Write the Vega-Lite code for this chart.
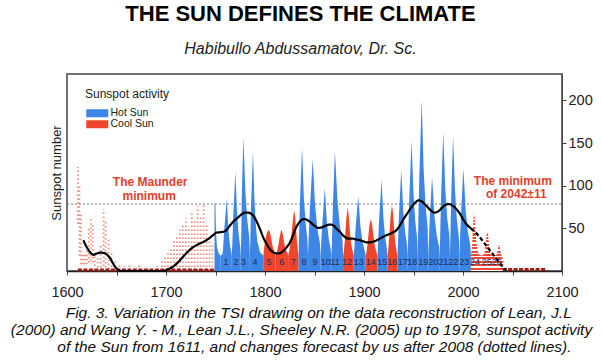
{
  "$schema": "https://vega.github.io/schema/vega-lite/v6.json",
  "width": 495,
  "height": 197,
  "autosize": {"type": "none"},
  "padding": {"left": 67, "top": 74, "right": 40, "bottom": 89},
  "background": "white",
  "title": {
    "text": "THE SUN DEFINES THE CLIMATE",
    "subtitle": "Habibullo Abdussamatov, Dr. Sc.",
    "anchor": "middle",
    "frame": "group",
    "dx": -14,
    "offset": 16,
    "font": "Liberation Sans",
    "fontSize": 22,
    "fontWeight": "bold",
    "color": "#000000",
    "subtitleFont": "Liberation Sans",
    "subtitleFontSize": 16,
    "subtitleFontStyle": "italic",
    "subtitleColor": "#222222",
    "subtitlePadding": 15
  },
  "config": {"view": {"stroke": "#444444", "strokeWidth": 1.5}, "font": "Liberation Sans"},
  "resolve": {"axis": {"y": "independent"}},
  "datasets": {
    "cyc": [
      {"year": 1749.0, "v": 80, "c": 0, "k": "Hot Sun"},
      {"year": 1749.9, "v": 78, "c": 0, "k": "Hot Sun"},
      {"year": 1750.5, "v": 45, "c": 0, "k": "Hot Sun"},
      {"year": 1751.5, "v": 28, "c": 0, "k": "Hot Sun"},
      {"year": 1753.0, "v": 21, "c": 0, "k": "Hot Sun"},
      {"year": 1755.2, "v": 18, "c": 0, "k": "Hot Sun"},
      {"year": 1755.2, "v": 18, "c": 1, "k": "Hot Sun"},
      {"year": 1757.0, "v": 20, "c": 1, "k": "Hot Sun"},
      {"year": 1757.6, "v": 25, "c": 1, "k": "Hot Sun"},
      {"year": 1758.7, "v": 47, "c": 1, "k": "Hot Sun"},
      {"year": 1760.7, "v": 75, "c": 1, "k": "Hot Sun"},
      {"year": 1761.3, "v": 85, "c": 1, "k": "Hot Sun"},
      {"year": 1761.8, "v": 75, "c": 1, "k": "Hot Sun"},
      {"year": 1762.9, "v": 51, "c": 1, "k": "Hot Sun"},
      {"year": 1764.4, "v": 32, "c": 1, "k": "Hot Sun"},
      {"year": 1765.9, "v": 22, "c": 1, "k": "Hot Sun"},
      {"year": 1766.5, "v": 18, "c": 1, "k": "Hot Sun"},
      {"year": 1766.5, "v": 18, "c": 2, "k": "Hot Sun"},
      {"year": 1767.1, "v": 35, "c": 2, "k": "Hot Sun"},
      {"year": 1767.9, "v": 64, "c": 2, "k": "Hot Sun"},
      {"year": 1769.5, "v": 102, "c": 2, "k": "Hot Sun"},
      {"year": 1770.0, "v": 116, "c": 2, "k": "Hot Sun"},
      {"year": 1770.6, "v": 102, "c": 2, "k": "Hot Sun"},
      {"year": 1771.7, "v": 70, "c": 2, "k": "Hot Sun"},
      {"year": 1773.3, "v": 44, "c": 2, "k": "Hot Sun"},
      {"year": 1774.9, "v": 29, "c": 2, "k": "Hot Sun"},
      {"year": 1775.5, "v": 18, "c": 2, "k": "Hot Sun"},
      {"year": 1775.5, "v": 18, "c": 3, "k": "Hot Sun"},
      {"year": 1776.1, "v": 47, "c": 3, "k": "Hot Sun"},
      {"year": 1776.5, "v": 86, "c": 3, "k": "Hot Sun"},
      {"year": 1777.7, "v": 138, "c": 3, "k": "Hot Sun"},
      {"year": 1778.1, "v": 157, "c": 3, "k": "Hot Sun"},
      {"year": 1778.8, "v": 138, "c": 3, "k": "Hot Sun"},
      {"year": 1780.1, "v": 94, "c": 3, "k": "Hot Sun"},
      {"year": 1782.1, "v": 60, "c": 3, "k": "Hot Sun"},
      {"year": 1784.1, "v": 39, "c": 3, "k": "Hot Sun"},
      {"year": 1784.7, "v": 18, "c": 3, "k": "Hot Sun"},
      {"year": 1784.7, "v": 18, "c": 4, "k": "Hot Sun"},
      {"year": 1785.3, "v": 42, "c": 4, "k": "Hot Sun"},
      {"year": 1785.9, "v": 77, "c": 4, "k": "Hot Sun"},
      {"year": 1787.3, "v": 123, "c": 4, "k": "Hot Sun"},
      {"year": 1787.8, "v": 140, "c": 4, "k": "Hot Sun"},
      {"year": 1788.3, "v": 123, "c": 4, "k": "Hot Sun"},
      {"year": 1789.3, "v": 84, "c": 4, "k": "Hot Sun"},
      {"year": 1790.8, "v": 53, "c": 4, "k": "Hot Sun"},
      {"year": 1792.2, "v": 35, "c": 4, "k": "Hot Sun"},
      {"year": 1795.0, "v": 22, "c": 4, "k": "Hot Sun"},
      {"year": 1798.3, "v": 18, "c": 4, "k": "Hot Sun"},
      {"year": 1798.3, "v": 18, "c": 5, "k": "Cool Sun"},
      {"year": 1799.0, "v": 26, "c": 5, "k": "Cool Sun"},
      {"year": 1800.2, "v": 36, "c": 5, "k": "Cool Sun"},
      {"year": 1802.0, "v": 45, "c": 5, "k": "Cool Sun"},
      {"year": 1803.5, "v": 48, "c": 5, "k": "Cool Sun"},
      {"year": 1804.8, "v": 46, "c": 5, "k": "Cool Sun"},
      {"year": 1806.3, "v": 38, "c": 5, "k": "Cool Sun"},
      {"year": 1807.8, "v": 28, "c": 5, "k": "Cool Sun"},
      {"year": 1809.8, "v": 22, "c": 5, "k": "Cool Sun"},
      {"year": 1810.6, "v": 18, "c": 5, "k": "Cool Sun"},
      {"year": 1810.6, "v": 18, "c": 6, "k": "Cool Sun"},
      {"year": 1811.5, "v": 20, "c": 6, "k": "Cool Sun"},
      {"year": 1813.2, "v": 28, "c": 6, "k": "Cool Sun"},
      {"year": 1814.8, "v": 40, "c": 6, "k": "Cool Sun"},
      {"year": 1816.2, "v": 47, "c": 6, "k": "Cool Sun"},
      {"year": 1816.9, "v": 48, "c": 6, "k": "Cool Sun"},
      {"year": 1817.8, "v": 44, "c": 6, "k": "Cool Sun"},
      {"year": 1819.2, "v": 34, "c": 6, "k": "Cool Sun"},
      {"year": 1820.8, "v": 25, "c": 6, "k": "Cool Sun"},
      {"year": 1822.6, "v": 21, "c": 6, "k": "Cool Sun"},
      {"year": 1823.3, "v": 18, "c": 6, "k": "Cool Sun"},
      {"year": 1823.3, "v": 18, "c": 7, "k": "Cool Sun"},
      {"year": 1824.2, "v": 22, "c": 7, "k": "Cool Sun"},
      {"year": 1825.6, "v": 32, "c": 7, "k": "Cool Sun"},
      {"year": 1827.2, "v": 48, "c": 7, "k": "Cool Sun"},
      {"year": 1828.6, "v": 64, "c": 7, "k": "Cool Sun"},
      {"year": 1829.4, "v": 71, "c": 7, "k": "Cool Sun"},
      {"year": 1830.3, "v": 66, "c": 7, "k": "Cool Sun"},
      {"year": 1831.4, "v": 48, "c": 7, "k": "Cool Sun"},
      {"year": 1832.6, "v": 30, "c": 7, "k": "Cool Sun"},
      {"year": 1833.4, "v": 22, "c": 7, "k": "Cool Sun"},
      {"year": 1833.9, "v": 18, "c": 7, "k": "Cool Sun"},
      {"year": 1833.9, "v": 18, "c": 8, "k": "Hot Sun"},
      {"year": 1834.5, "v": 44, "c": 8, "k": "Hot Sun"},
      {"year": 1835.3, "v": 80, "c": 8, "k": "Hot Sun"},
      {"year": 1836.9, "v": 128, "c": 8, "k": "Hot Sun"},
      {"year": 1837.4, "v": 145, "c": 8, "k": "Hot Sun"},
      {"year": 1838.0, "v": 128, "c": 8, "k": "Hot Sun"},
      {"year": 1839.2, "v": 87, "c": 8, "k": "Hot Sun"},
      {"year": 1841.1, "v": 55, "c": 8, "k": "Hot Sun"},
      {"year": 1842.9, "v": 36, "c": 8, "k": "Hot Sun"},
      {"year": 1843.5, "v": 18, "c": 8, "k": "Hot Sun"},
      {"year": 1843.5, "v": 18, "c": 9, "k": "Hot Sun"},
      {"year": 1844.1, "v": 39, "c": 9, "k": "Hot Sun"},
      {"year": 1845.3, "v": 72, "c": 9, "k": "Hot Sun"},
      {"year": 1847.4, "v": 115, "c": 9, "k": "Hot Sun"},
      {"year": 1848.1, "v": 131, "c": 9, "k": "Hot Sun"},
      {"year": 1848.9, "v": 115, "c": 9, "k": "Hot Sun"},
      {"year": 1850.5, "v": 79, "c": 9, "k": "Hot Sun"},
      {"year": 1852.8, "v": 50, "c": 9, "k": "Hot Sun"},
      {"year": 1855.4, "v": 33, "c": 9, "k": "Hot Sun"},
      {"year": 1856.0, "v": 18, "c": 9, "k": "Hot Sun"},
      {"year": 1856.0, "v": 18, "c": 10, "k": "Hot Sun"},
      {"year": 1856.6, "v": 29, "c": 10, "k": "Hot Sun"},
      {"year": 1857.8, "v": 53, "c": 10, "k": "Hot Sun"},
      {"year": 1859.7, "v": 85, "c": 10, "k": "Hot Sun"},
      {"year": 1860.4, "v": 97, "c": 10, "k": "Hot Sun"},
      {"year": 1861.1, "v": 85, "c": 10, "k": "Hot Sun"},
      {"year": 1862.4, "v": 58, "c": 10, "k": "Hot Sun"},
      {"year": 1864.5, "v": 37, "c": 10, "k": "Hot Sun"},
      {"year": 1866.6, "v": 24, "c": 10, "k": "Hot Sun"},
      {"year": 1867.2, "v": 18, "c": 10, "k": "Hot Sun"},
      {"year": 1867.2, "v": 18, "c": 11, "k": "Hot Sun"},
      {"year": 1867.8, "v": 42, "c": 11, "k": "Hot Sun"},
      {"year": 1868.6, "v": 77, "c": 11, "k": "Hot Sun"},
      {"year": 1870.1, "v": 123, "c": 11, "k": "Hot Sun"},
      {"year": 1870.6, "v": 140, "c": 11, "k": "Hot Sun"},
      {"year": 1871.4, "v": 123, "c": 11, "k": "Hot Sun"},
      {"year": 1873.1, "v": 84, "c": 11, "k": "Hot Sun"},
      {"year": 1875.6, "v": 53, "c": 11, "k": "Hot Sun"},
      {"year": 1878.3, "v": 35, "c": 11, "k": "Hot Sun"},
      {"year": 1878.9, "v": 18, "c": 11, "k": "Hot Sun"},
      {"year": 1878.9, "v": 18, "c": 12, "k": "Cool Sun"},
      {"year": 1879.6, "v": 22, "c": 12, "k": "Cool Sun"},
      {"year": 1880.8, "v": 38, "c": 12, "k": "Cool Sun"},
      {"year": 1882.2, "v": 62, "c": 12, "k": "Cool Sun"},
      {"year": 1883.6, "v": 75, "c": 12, "k": "Cool Sun"},
      {"year": 1884.5, "v": 66, "c": 12, "k": "Cool Sun"},
      {"year": 1885.6, "v": 48, "c": 12, "k": "Cool Sun"},
      {"year": 1887.0, "v": 32, "c": 12, "k": "Cool Sun"},
      {"year": 1888.8, "v": 22, "c": 12, "k": "Cool Sun"},
      {"year": 1889.6, "v": 18, "c": 12, "k": "Cool Sun"},
      {"year": 1889.6, "v": 18, "c": 13, "k": "Hot Sun"},
      {"year": 1890.2, "v": 26, "c": 13, "k": "Hot Sun"},
      {"year": 1891.4, "v": 48, "c": 13, "k": "Hot Sun"},
      {"year": 1893.4, "v": 77, "c": 13, "k": "Hot Sun"},
      {"year": 1894.1, "v": 87, "c": 13, "k": "Hot Sun"},
      {"year": 1894.9, "v": 77, "c": 13, "k": "Hot Sun"},
      {"year": 1896.4, "v": 52, "c": 13, "k": "Hot Sun"},
      {"year": 1898.7, "v": 33, "c": 13, "k": "Hot Sun"},
      {"year": 1901.1, "v": 22, "c": 13, "k": "Hot Sun"},
      {"year": 1901.7, "v": 18, "c": 13, "k": "Hot Sun"},
      {"year": 1901.7, "v": 18, "c": 14, "k": "Cool Sun"},
      {"year": 1902.5, "v": 22, "c": 14, "k": "Cool Sun"},
      {"year": 1903.8, "v": 34, "c": 14, "k": "Cool Sun"},
      {"year": 1905.3, "v": 52, "c": 14, "k": "Cool Sun"},
      {"year": 1906.9, "v": 61, "c": 14, "k": "Cool Sun"},
      {"year": 1908.0, "v": 56, "c": 14, "k": "Cool Sun"},
      {"year": 1909.3, "v": 44, "c": 14, "k": "Cool Sun"},
      {"year": 1910.8, "v": 30, "c": 14, "k": "Cool Sun"},
      {"year": 1912.6, "v": 22, "c": 14, "k": "Cool Sun"},
      {"year": 1913.6, "v": 18, "c": 14, "k": "Cool Sun"},
      {"year": 1913.6, "v": 18, "c": 15, "k": "Hot Sun"},
      {"year": 1914.2, "v": 32, "c": 15, "k": "Hot Sun"},
      {"year": 1915.2, "v": 59, "c": 15, "k": "Hot Sun"},
      {"year": 1917.1, "v": 94, "c": 15, "k": "Hot Sun"},
      {"year": 1917.7, "v": 107, "c": 15, "k": "Hot Sun"},
      {"year": 1918.3, "v": 94, "c": 15, "k": "Hot Sun"},
      {"year": 1919.5, "v": 64, "c": 15, "k": "Hot Sun"},
      {"year": 1921.2, "v": 41, "c": 15, "k": "Hot Sun"},
      {"year": 1923.0, "v": 27, "c": 15, "k": "Hot Sun"},
      {"year": 1923.6, "v": 18, "c": 15, "k": "Hot Sun"},
      {"year": 1923.6, "v": 18, "c": 16, "k": "Cool Sun"},
      {"year": 1924.3, "v": 22, "c": 16, "k": "Cool Sun"},
      {"year": 1925.5, "v": 40, "c": 16, "k": "Cool Sun"},
      {"year": 1927.0, "v": 66, "c": 16, "k": "Cool Sun"},
      {"year": 1928.2, "v": 77, "c": 16, "k": "Cool Sun"},
      {"year": 1929.1, "v": 70, "c": 16, "k": "Cool Sun"},
      {"year": 1930.3, "v": 50, "c": 16, "k": "Cool Sun"},
      {"year": 1931.7, "v": 32, "c": 16, "k": "Cool Sun"},
      {"year": 1933.1, "v": 22, "c": 16, "k": "Cool Sun"},
      {"year": 1933.8, "v": 18, "c": 16, "k": "Cool Sun"},
      {"year": 1933.8, "v": 18, "c": 17, "k": "Hot Sun"},
      {"year": 1934.4, "v": 35, "c": 17, "k": "Hot Sun"},
      {"year": 1935.3, "v": 65, "c": 17, "k": "Hot Sun"},
      {"year": 1937.0, "v": 104, "c": 17, "k": "Hot Sun"},
      {"year": 1937.6, "v": 118, "c": 17, "k": "Hot Sun"},
      {"year": 1938.3, "v": 104, "c": 17, "k": "Hot Sun"},
      {"year": 1939.6, "v": 71, "c": 17, "k": "Hot Sun"},
      {"year": 1941.6, "v": 45, "c": 17, "k": "Hot Sun"},
      {"year": 1943.6, "v": 30, "c": 17, "k": "Hot Sun"},
      {"year": 1944.2, "v": 18, "c": 17, "k": "Hot Sun"},
      {"year": 1944.2, "v": 18, "c": 18, "k": "Hot Sun"},
      {"year": 1944.8, "v": 46, "c": 18, "k": "Hot Sun"},
      {"year": 1945.7, "v": 84, "c": 18, "k": "Hot Sun"},
      {"year": 1947.4, "v": 135, "c": 18, "k": "Hot Sun"},
      {"year": 1948.0, "v": 153, "c": 18, "k": "Hot Sun"},
      {"year": 1948.6, "v": 135, "c": 18, "k": "Hot Sun"},
      {"year": 1949.9, "v": 92, "c": 18, "k": "Hot Sun"},
      {"year": 1951.8, "v": 58, "c": 18, "k": "Hot Sun"},
      {"year": 1953.7, "v": 38, "c": 18, "k": "Hot Sun"},
      {"year": 1954.3, "v": 18, "c": 18, "k": "Hot Sun"},
      {"year": 1954.3, "v": 18, "c": 19, "k": "Hot Sun"},
      {"year": 1954.9, "v": 60, "c": 19, "k": "Hot Sun"},
      {"year": 1955.9, "v": 110, "c": 19, "k": "Hot Sun"},
      {"year": 1957.6, "v": 176, "c": 19, "k": "Hot Sun"},
      {"year": 1958.2, "v": 200, "c": 19, "k": "Hot Sun"},
      {"year": 1958.9, "v": 176, "c": 19, "k": "Hot Sun"},
      {"year": 1960.2, "v": 120, "c": 19, "k": "Hot Sun"},
      {"year": 1962.2, "v": 76, "c": 19, "k": "Hot Sun"},
      {"year": 1964.3, "v": 50, "c": 19, "k": "Hot Sun"},
      {"year": 1964.9, "v": 18, "c": 19, "k": "Hot Sun"},
      {"year": 1964.9, "v": 18, "c": 20, "k": "Hot Sun"},
      {"year": 1965.5, "v": 33, "c": 20, "k": "Hot Sun"},
      {"year": 1966.4, "v": 61, "c": 20, "k": "Hot Sun"},
      {"year": 1968.1, "v": 97, "c": 20, "k": "Hot Sun"},
      {"year": 1968.7, "v": 110, "c": 20, "k": "Hot Sun"},
      {"year": 1969.5, "v": 97, "c": 20, "k": "Hot Sun"},
      {"year": 1971.0, "v": 66, "c": 20, "k": "Hot Sun"},
      {"year": 1973.4, "v": 42, "c": 20, "k": "Hot Sun"},
      {"year": 1975.9, "v": 28, "c": 20, "k": "Hot Sun"},
      {"year": 1976.5, "v": 18, "c": 20, "k": "Hot Sun"},
      {"year": 1976.5, "v": 18, "c": 21, "k": "Hot Sun"},
      {"year": 1977.1, "v": 49, "c": 21, "k": "Hot Sun"},
      {"year": 1977.9, "v": 90, "c": 21, "k": "Hot Sun"},
      {"year": 1979.5, "v": 143, "c": 21, "k": "Hot Sun"},
      {"year": 1980.0, "v": 163, "c": 21, "k": "Hot Sun"},
      {"year": 1980.7, "v": 143, "c": 21, "k": "Hot Sun"},
      {"year": 1982.0, "v": 98, "c": 21, "k": "Hot Sun"},
      {"year": 1984.1, "v": 62, "c": 21, "k": "Hot Sun"},
      {"year": 1986.2, "v": 41, "c": 21, "k": "Hot Sun"},
      {"year": 1986.8, "v": 18, "c": 21, "k": "Hot Sun"},
      {"year": 1986.8, "v": 18, "c": 22, "k": "Hot Sun"},
      {"year": 1987.4, "v": 47, "c": 22, "k": "Hot Sun"},
      {"year": 1988.1, "v": 87, "c": 22, "k": "Hot Sun"},
      {"year": 1989.5, "v": 139, "c": 22, "k": "Hot Sun"},
      {"year": 1990.0, "v": 158, "c": 22, "k": "Hot Sun"},
      {"year": 1990.6, "v": 139, "c": 22, "k": "Hot Sun"},
      {"year": 1991.9, "v": 95, "c": 22, "k": "Hot Sun"},
      {"year": 1993.8, "v": 60, "c": 22, "k": "Hot Sun"},
      {"year": 1995.8, "v": 40, "c": 22, "k": "Hot Sun"},
      {"year": 1996.4, "v": 18, "c": 22, "k": "Hot Sun"},
      {"year": 1996.4, "v": 18, "c": 23, "k": "Hot Sun"},
      {"year": 1997.0, "v": 36, "c": 23, "k": "Hot Sun"},
      {"year": 1998.0, "v": 66, "c": 23, "k": "Hot Sun"},
      {"year": 1999.7, "v": 106, "c": 23, "k": "Hot Sun"},
      {"year": 2000.3, "v": 120, "c": 23, "k": "Hot Sun"},
      {"year": 2001.1, "v": 106, "c": 23, "k": "Hot Sun"},
      {"year": 2002.6, "v": 72, "c": 23, "k": "Hot Sun"},
      {"year": 2004.9, "v": 46, "c": 23, "k": "Hot Sun"},
      {"year": 2007.4, "v": 30, "c": 23, "k": "Hot Sun"},
      {"year": 2008.0, "v": 18, "c": 23, "k": "Hot Sun"}
    ],
    "fc": [
      {"year": 2008.0, "v": 18},
      {"year": 2009.2, "v": 30},
      {"year": 2010.2, "v": 55},
      {"year": 2011.1, "v": 68},
      {"year": 2012.1, "v": 58},
      {"year": 2013.4, "v": 35},
      {"year": 2015.5, "v": 20},
      {"year": 2018.7, "v": 18},
      {"year": 2021.5, "v": 20},
      {"year": 2022.8, "v": 32},
      {"year": 2023.8, "v": 42},
      {"year": 2024.6, "v": 46},
      {"year": 2025.4, "v": 42},
      {"year": 2026.4, "v": 30},
      {"year": 2027.5, "v": 20},
      {"year": 2030.5, "v": 18},
      {"year": 2033.8, "v": 19},
      {"year": 2034.9, "v": 24},
      {"year": 2035.7, "v": 29},
      {"year": 2036.4, "v": 31},
      {"year": 2037.1, "v": 29},
      {"year": 2038.0, "v": 22},
      {"year": 2039.2, "v": 17},
      {"year": 2040.5, "v": 14},
      {"year": 2041.0, "v": 0}
    ],
    "mspk": [
      {"year": 1611, "lo": 55, "hi": 122},
      {"year": 1612.5, "lo": 18, "hi": 100},
      {"year": 1614, "lo": 8, "hi": 68},
      {"year": 1616, "lo": 8, "hi": 20},
      {"year": 1618, "lo": 8, "hi": 22},
      {"year": 1620, "lo": 8, "hi": 30},
      {"year": 1622, "lo": 10, "hi": 50},
      {"year": 1624, "lo": 12, "hi": 62},
      {"year": 1626, "lo": 10, "hi": 55},
      {"year": 1628, "lo": 6, "hi": 25},
      {"year": 1631, "lo": 4, "hi": 18},
      {"year": 1634, "lo": 4, "hi": 30},
      {"year": 1637, "lo": 6, "hi": 72},
      {"year": 1639, "lo": 4, "hi": 58},
      {"year": 1642, "lo": 2, "hi": 38},
      {"year": 1645, "lo": 0, "hi": 22},
      {"year": 1649, "lo": 0, "hi": 12},
      {"year": 1653, "lo": 0, "hi": 8},
      {"year": 1658, "lo": 0, "hi": 6},
      {"year": 1663, "lo": 0, "hi": 8},
      {"year": 1668, "lo": 0, "hi": 5},
      {"year": 1673, "lo": 0, "hi": 7},
      {"year": 1679, "lo": 0, "hi": 5},
      {"year": 1685, "lo": 0, "hi": 4},
      {"year": 1691, "lo": 0, "hi": 6},
      {"year": 1696, "lo": 0, "hi": 12},
      {"year": 1699, "lo": 0, "hi": 18},
      {"year": 1702, "lo": 0, "hi": 22},
      {"year": 1705, "lo": 0, "hi": 28},
      {"year": 1708, "lo": 0, "hi": 35},
      {"year": 1711, "lo": 0, "hi": 40},
      {"year": 1714, "lo": 0, "hi": 48},
      {"year": 1717, "lo": 0, "hi": 55},
      {"year": 1720, "lo": 0, "hi": 62},
      {"year": 1723, "lo": 0, "hi": 52},
      {"year": 1726, "lo": 0, "hi": 70},
      {"year": 1729, "lo": 0, "hi": 60},
      {"year": 1732, "lo": 0, "hi": 76},
      {"year": 1735, "lo": 0, "hi": 64},
      {"year": 1738, "lo": 0, "hi": 80},
      {"year": 1741, "lo": 0, "hi": 55},
      {"year": 1744, "lo": 0, "hi": 42},
      {"year": 1747, "lo": 0, "hi": 30}
    ],
    "tails": [
      {"year": 1611, "v": 1.2, "s": "a"},
      {"year": 1750, "v": 1.2, "s": "a"},
      {"year": 2040, "v": 1.8, "s": "b"},
      {"year": 2083, "v": 1.8, "s": "b"}
    ],
    "tsi": [
      {"year": 1616.5, "v": 36, "s": "o"},
      {"year": 1619, "v": 30, "s": "o"},
      {"year": 1621.5, "v": 25, "s": "o"},
      {"year": 1624, "v": 21, "s": "o"},
      {"year": 1627, "v": 19, "s": "o"},
      {"year": 1630, "v": 20.5, "s": "o"},
      {"year": 1634, "v": 21.5, "s": "o"},
      {"year": 1638, "v": 21, "s": "o"},
      {"year": 1641, "v": 18.5, "s": "o"},
      {"year": 1643.5, "v": 15, "s": "o"},
      {"year": 1646, "v": 10, "s": "o"},
      {"year": 1648.5, "v": 5, "s": "o"},
      {"year": 1651, "v": 2, "s": "o"},
      {"year": 1654, "v": 0, "s": "o"},
      {"year": 1697, "v": 0, "s": "o"},
      {"year": 1702, "v": 2, "s": "o"},
      {"year": 1707, "v": 5, "s": "o"},
      {"year": 1712, "v": 10, "s": "o"},
      {"year": 1717.5, "v": 17, "s": "o"},
      {"year": 1722, "v": 22.5, "s": "o"},
      {"year": 1727.5, "v": 28, "s": "o"},
      {"year": 1732, "v": 31, "s": "o"},
      {"year": 1737.5, "v": 34, "s": "o"},
      {"year": 1742, "v": 37, "s": "o"},
      {"year": 1747.5, "v": 42, "s": "o"},
      {"year": 1751, "v": 45, "s": "o"},
      {"year": 1755, "v": 45.5, "s": "o"},
      {"year": 1758, "v": 46, "s": "o"},
      {"year": 1761, "v": 48, "s": "o"},
      {"year": 1765, "v": 54, "s": "o"},
      {"year": 1769, "v": 59, "s": "o"},
      {"year": 1773, "v": 63, "s": "o"},
      {"year": 1777, "v": 67, "s": "o"},
      {"year": 1780, "v": 68.5, "s": "o"},
      {"year": 1783, "v": 68.5, "s": "o"},
      {"year": 1786, "v": 67, "s": "o"},
      {"year": 1789, "v": 63.5, "s": "o"},
      {"year": 1792, "v": 57, "s": "o"},
      {"year": 1795, "v": 49, "s": "o"},
      {"year": 1798, "v": 40, "s": "o"},
      {"year": 1801, "v": 33, "s": "o"},
      {"year": 1804, "v": 27, "s": "o"},
      {"year": 1807, "v": 23, "s": "o"},
      {"year": 1810, "v": 21, "s": "o"},
      {"year": 1813, "v": 20.5, "s": "o"},
      {"year": 1816, "v": 21.5, "s": "o"},
      {"year": 1819, "v": 24, "s": "o"},
      {"year": 1822, "v": 28, "s": "o"},
      {"year": 1825, "v": 33, "s": "o"},
      {"year": 1828, "v": 41, "s": "o"},
      {"year": 1831, "v": 50, "s": "o"},
      {"year": 1834, "v": 56, "s": "o"},
      {"year": 1837, "v": 60, "s": "o"},
      {"year": 1840, "v": 61, "s": "o"},
      {"year": 1845, "v": 58, "s": "o"},
      {"year": 1850, "v": 53, "s": "o"},
      {"year": 1854, "v": 50.5, "s": "o"},
      {"year": 1858, "v": 51.5, "s": "o"},
      {"year": 1862, "v": 53.5, "s": "o"},
      {"year": 1866, "v": 54.5, "s": "o"},
      {"year": 1869, "v": 53.5, "s": "o"},
      {"year": 1872, "v": 50, "s": "o"},
      {"year": 1876, "v": 45.5, "s": "o"},
      {"year": 1880, "v": 40.5, "s": "o"},
      {"year": 1884, "v": 38, "s": "o"},
      {"year": 1888, "v": 38, "s": "o"},
      {"year": 1892, "v": 37, "s": "o"},
      {"year": 1896, "v": 36, "s": "o"},
      {"year": 1900, "v": 34.5, "s": "o"},
      {"year": 1904, "v": 33.5, "s": "o"},
      {"year": 1908, "v": 34, "s": "o"},
      {"year": 1912, "v": 35.5, "s": "o"},
      {"year": 1916, "v": 38, "s": "o"},
      {"year": 1920, "v": 40.5, "s": "o"},
      {"year": 1924, "v": 42.5, "s": "o"},
      {"year": 1928, "v": 44.5, "s": "o"},
      {"year": 1932, "v": 47, "s": "o"},
      {"year": 1936, "v": 53, "s": "o"},
      {"year": 1940, "v": 61, "s": "o"},
      {"year": 1944, "v": 68, "s": "o"},
      {"year": 1948, "v": 75, "s": "o"},
      {"year": 1952, "v": 80.5, "s": "o"},
      {"year": 1955.5, "v": 83, "s": "o"},
      {"year": 1959, "v": 81, "s": "o"},
      {"year": 1963, "v": 76.5, "s": "o"},
      {"year": 1967, "v": 71.5, "s": "o"},
      {"year": 1971, "v": 68.5, "s": "o"},
      {"year": 1975, "v": 70, "s": "o"},
      {"year": 1979, "v": 74.5, "s": "o"},
      {"year": 1983, "v": 78, "s": "o"},
      {"year": 1986, "v": 78.5, "s": "o"},
      {"year": 1989, "v": 77, "s": "o"},
      {"year": 1993, "v": 73, "s": "o"},
      {"year": 1997, "v": 67, "s": "o"},
      {"year": 2001, "v": 59, "s": "o"},
      {"year": 2005, "v": 53, "s": "o"},
      {"year": 2008, "v": 50, "s": "o"},
      {"year": 2008, "v": 50, "s": "f"},
      {"year": 2012, "v": 46, "s": "f"},
      {"year": 2016, "v": 41, "s": "f"},
      {"year": 2020, "v": 35, "s": "f"},
      {"year": 2024, "v": 29, "s": "f"},
      {"year": 2028, "v": 23, "s": "f"},
      {"year": 2032, "v": 17, "s": "f"},
      {"year": 2036, "v": 11, "s": "f"},
      {"year": 2040, "v": 5, "s": "f"},
      {"year": 2044, "v": 1, "s": "f"}
    ],
    "lab": [
      {"year": 1760.6, "n": "1"}, {"year": 1770.7, "n": "2"}, {"year": 1778.0, "n": "3"},
      {"year": 1789.9, "n": "4"}, {"year": 1804.0, "n": "5"}, {"year": 1816.9, "n": "6"},
      {"year": 1828.6, "n": "7"}, {"year": 1839.4, "n": "8"}, {"year": 1850.5, "n": "9"},
      {"year": 1861.3, "n": "10"}, {"year": 1870.7, "n": "11"}, {"year": 1882.8, "n": "12"},
      {"year": 1894.6, "n": "13"}, {"year": 1906.8, "n": "14"}, {"year": 1918.5, "n": "15"},
      {"year": 1928.6, "n": "16"}, {"year": 1939.1, "n": "17"}, {"year": 1948.8, "n": "18"},
      {"year": 1959.9, "n": "19"}, {"year": 1970.0, "n": "20"}, {"year": 1980.1, "n": "21"},
      {"year": 1990.2, "n": "22"}, {"year": 2001.3, "n": "23"}, {"year": 2012.1, "n": "24"},
      {"year": 2023.9, "n": "25"}, {"year": 2034.0, "n": "26"}
    ],
    "notes": [
      {"year": 1684, "v": 104.7, "t": "The Maunder"},
      {"year": 1683, "v": 88, "t": "minimum"},
      {"year": 2050.3, "v": 105.6, "t": "The minimum"},
      {"year": 2053.8, "v": 90, "t": "of 2042±11"}
    ],
    "ref": [
      {"year": 1600},
      {"year": 2100}
    ]
  },
  "encoding": {
    "x": {
      "field": "year", "type": "quantitative",
      "scale": {"domain": [1600, 2100], "nice": false},
      "axis": {
        "orient": "bottom",
        "values": [1600, 1650, 1700, 1750, 1800, 1850, 1900, 1950, 2000, 2050, 2100],
        "format": "d",
        "labelExpr": "datum.value % 100 === 0 ? datum.label : ''",
        "grid": false,
        "domainColor": "#222222",
        "domainWidth": 1.5,
        "tickColor": "#444444",
        "tickSize": 4,
        "labelFont": "Liberation Sans",
        "labelFontSize": 14.5,
        "labelColor": "#222222",
        "labelPadding": 10,
        "labelFlush": false,
        "labelOverlap": false,
        "title": [
          "\u200b\u00a0\u00a0\u00a0\u00a0\u00a0\u00a0\u00a0\u00a0Fig. 3. Variation in the TSI drawing on the data reconstruction of Lean, J.L",
          "(2000) and Wang Y. - M., Lean J.L., Sheeley N.R. (2005) up to 1978, sunspot activity",
          "\u200b\u00a0\u00a0\u00a0\u00a0\u00a0\u00a0of the Sun from 1611, and changes forecast by us after 2008 (dotted lines)."
        ],
        "titleFont": "Liberation Sans",
        "titleFontSize": 15.5,
        "titleFontStyle": "italic",
        "titleFontWeight": "normal",
        "titleColor": "#111111",
        "titleLineHeight": 17,
        "titlePadding": 7,
        "titleX": 234,
        "titleAlign": "center"
      }
    }
  },
  "layer": [
    {
      "data": {"name": "ref"},
      "mark": {"type": "line", "strokeDash": [2, 2], "color": "#777777", "strokeWidth": 1},
      "encoding": {
        "y": {"datum": 78.5, "type": "quantitative", "scale": {"domain": [0, 231], "nice": false}, "axis": null}
      }
    },
    {
      "data": {"name": "mspk"},
      "mark": {"type": "rule", "color": "#e4553d", "opacity": 0.65, "strokeWidth": 1.8, "strokeDash": [1.5, 2.5]},
      "encoding": {
        "y": {"field": "lo", "type": "quantitative", "scale": {"domain": [0, 231], "nice": false}, "axis": null},
        "y2": {"field": "hi"}
      }
    },
    {
      "data": {"name": "cyc"},
      "mark": {"type": "area", "interpolate": "linear"},
      "encoding": {
        "y": {
          "field": "v", "type": "quantitative", "stack": null,
          "scale": {"domain": [0, 231], "nice": false},
          "axis": {
            "orient": "right",
            "values": [50, 100, 150, 200],
            "grid": false,
            "domainColor": "#444444",
            "tickColor": "#444444",
            "tickSize": 4,
            "labelFont": "Liberation Sans",
            "labelFontSize": 14.5,
            "labelColor": "#222222",
            "labelPadding": 2,
            "title": null
          }
        },
        "detail": {"field": "c", "type": "nominal"},
        "color": {
          "field": "k", "type": "nominal",
          "scale": {"domain": ["Hot Sun", "Cool Sun"], "range": ["#3d86e6", "#f0452b"]},
          "legend": {
            "title": "Sunspot activity",
            "orient": "none",
            "legendX": 18,
            "legendY": 15,
            "direction": "vertical",
            "padding": 0,
            "symbolType": "M-2.75,-1H2.75V1H-2.75Z",
            "symbolSize": 64,
            "symbolOffset": 7,
            "symbolStrokeWidth": 0,
            "symbolOpacity": 1,
            "titleFont": "Liberation Sans",
            "titleFontSize": 12,
            "titleFontWeight": "normal",
            "titleColor": "#222222",
            "titlePadding": 7,
            "labelFont": "Liberation Sans",
            "labelFontSize": 10.5,
            "labelColor": "#222222",
            "labelOffset": 8,
            "rowPadding": 0
          }
        }
      }
    },
    {
      "data": {"name": "fc"},
      "mark": {
        "type": "area",
        "interpolate": "linear",
        "color": {
          "gradient": "linear", "x1": 0, "y1": 0, "x2": 0, "y2": 1,
          "stops": [
            {"offset": 0, "color": "#ee4a33"}, {"offset": 0.036, "color": "#ee4a33"}, {"offset": 0.036, "color": "#ffffff"}, {"offset": 0.0588, "color": "#ffffff"},
            {"offset": 0.0588, "color": "#ee4a33"}, {"offset": 0.0948, "color": "#ee4a33"}, {"offset": 0.0948, "color": "#ffffff"}, {"offset": 0.1176, "color": "#ffffff"},
            {"offset": 0.1176, "color": "#ee4a33"}, {"offset": 0.1536, "color": "#ee4a33"}, {"offset": 0.1536, "color": "#ffffff"}, {"offset": 0.1765, "color": "#ffffff"},
            {"offset": 0.1765, "color": "#ee4a33"}, {"offset": 0.2125, "color": "#ee4a33"}, {"offset": 0.2125, "color": "#ffffff"}, {"offset": 0.2353, "color": "#ffffff"},
            {"offset": 0.2353, "color": "#ee4a33"}, {"offset": 0.2713, "color": "#ee4a33"}, {"offset": 0.2713, "color": "#ffffff"}, {"offset": 0.2941, "color": "#ffffff"},
            {"offset": 0.2941, "color": "#ee4a33"}, {"offset": 0.3301, "color": "#ee4a33"}, {"offset": 0.3301, "color": "#ffffff"}, {"offset": 0.3529, "color": "#ffffff"},
            {"offset": 0.3529, "color": "#ee4a33"}, {"offset": 0.3889, "color": "#ee4a33"}, {"offset": 0.3889, "color": "#ffffff"}, {"offset": 0.4118, "color": "#ffffff"},
            {"offset": 0.4118, "color": "#ee4a33"}, {"offset": 0.4478, "color": "#ee4a33"}, {"offset": 0.4478, "color": "#ffffff"}, {"offset": 0.4706, "color": "#ffffff"},
            {"offset": 0.4706, "color": "#ee4a33"}, {"offset": 0.5066, "color": "#ee4a33"}, {"offset": 0.5066, "color": "#ffffff"}, {"offset": 0.5294, "color": "#ffffff"},
            {"offset": 0.5294, "color": "#ee4a33"}, {"offset": 0.5654, "color": "#ee4a33"}, {"offset": 0.5654, "color": "#ffffff"}, {"offset": 0.5882, "color": "#ffffff"},
            {"offset": 0.5882, "color": "#ee4a33"}, {"offset": 0.6242, "color": "#ee4a33"}, {"offset": 0.6242, "color": "#ffffff"}, {"offset": 0.6471, "color": "#ffffff"},
            {"offset": 0.6471, "color": "#ee4a33"}, {"offset": 0.6831, "color": "#ee4a33"}, {"offset": 0.6831, "color": "#ffffff"}, {"offset": 0.7059, "color": "#ffffff"},
            {"offset": 0.7059, "color": "#ee4a33"}, {"offset": 0.7419, "color": "#ee4a33"}, {"offset": 0.7419, "color": "#ffffff"}, {"offset": 0.7647, "color": "#ffffff"},
            {"offset": 0.7647, "color": "#ee4a33"}, {"offset": 0.8007, "color": "#ee4a33"}, {"offset": 0.8007, "color": "#ffffff"}, {"offset": 0.8235, "color": "#ffffff"},
            {"offset": 0.8235, "color": "#ee4a33"}, {"offset": 0.8595, "color": "#ee4a33"}, {"offset": 0.8595, "color": "#ffffff"}, {"offset": 0.8824, "color": "#ffffff"},
            {"offset": 0.8824, "color": "#ee4a33"}, {"offset": 0.9184, "color": "#ee4a33"}, {"offset": 0.9184, "color": "#ffffff"}, {"offset": 0.9412, "color": "#ffffff"},
            {"offset": 0.9412, "color": "#ee4a33"}, {"offset": 0.9772, "color": "#ee4a33"}, {"offset": 0.9772, "color": "#ffffff"}, {"offset": 1, "color": "#ffffff"}
          ]
        }
      },
      "encoding": {
        "y": {"field": "v", "type": "quantitative", "scale": {"domain": [0, 231], "nice": false}, "axis": null}
      }
    },
    {
      "data": {"name": "tails"},
      "mark": {"type": "line", "color": "#9a1c12", "strokeWidth": 3, "strokeDash": [4, 1.5]},
      "encoding": {
        "y": {"field": "v", "type": "quantitative", "scale": {"domain": [0, 231], "nice": false}, "axis": null},
        "detail": {"field": "s", "type": "nominal"}
      }
    },
    {
      "data": {"name": "tsi"},
      "mark": {"type": "line", "color": "#000000", "strokeWidth": 2.2, "interpolate": "monotone"},
      "encoding": {
        "y": {
          "field": "v", "type": "quantitative",
          "scale": {"domain": [0, 231], "nice": false},
          "axis": {
            "orient": "left",
            "labels": false,
            "ticks": false,
            "domain": false,
            "grid": false,
            "title": "Sunspot number",
            "titleFont": "Liberation Sans",
            "titleFontSize": 13,
            "titleFontWeight": "normal",
            "titleColor": "#222222",
            "titlePadding": 4
          }
        },
        "strokeDash": {
          "field": "s", "type": "nominal",
          "scale": {"domain": ["o", "f"], "range": [[1, 0], [4, 2.5]]},
          "legend": null
        }
      }
    },
    {
      "data": {"name": "lab"},
      "mark": {"type": "text", "font": "Liberation Sans", "fontSize": 9, "color": "#1c2c5c", "baseline": "middle", "align": "center"},
      "encoding": {
        "y": {"datum": 11, "type": "quantitative", "scale": {"domain": [0, 231], "nice": false}, "axis": null},
        "text": {"field": "n"}
      }
    },
    {
      "data": {"name": "notes"},
      "mark": {"type": "text", "font": "Liberation Sans", "fontSize": 12, "fontWeight": "bold", "color": "#e0402c", "baseline": "middle", "align": "center"},
      "encoding": {
        "y": {"field": "v", "type": "quantitative", "scale": {"domain": [0, 231], "nice": false}, "axis": null},
        "text": {"field": "t"}
      }
    }
  ]
}
